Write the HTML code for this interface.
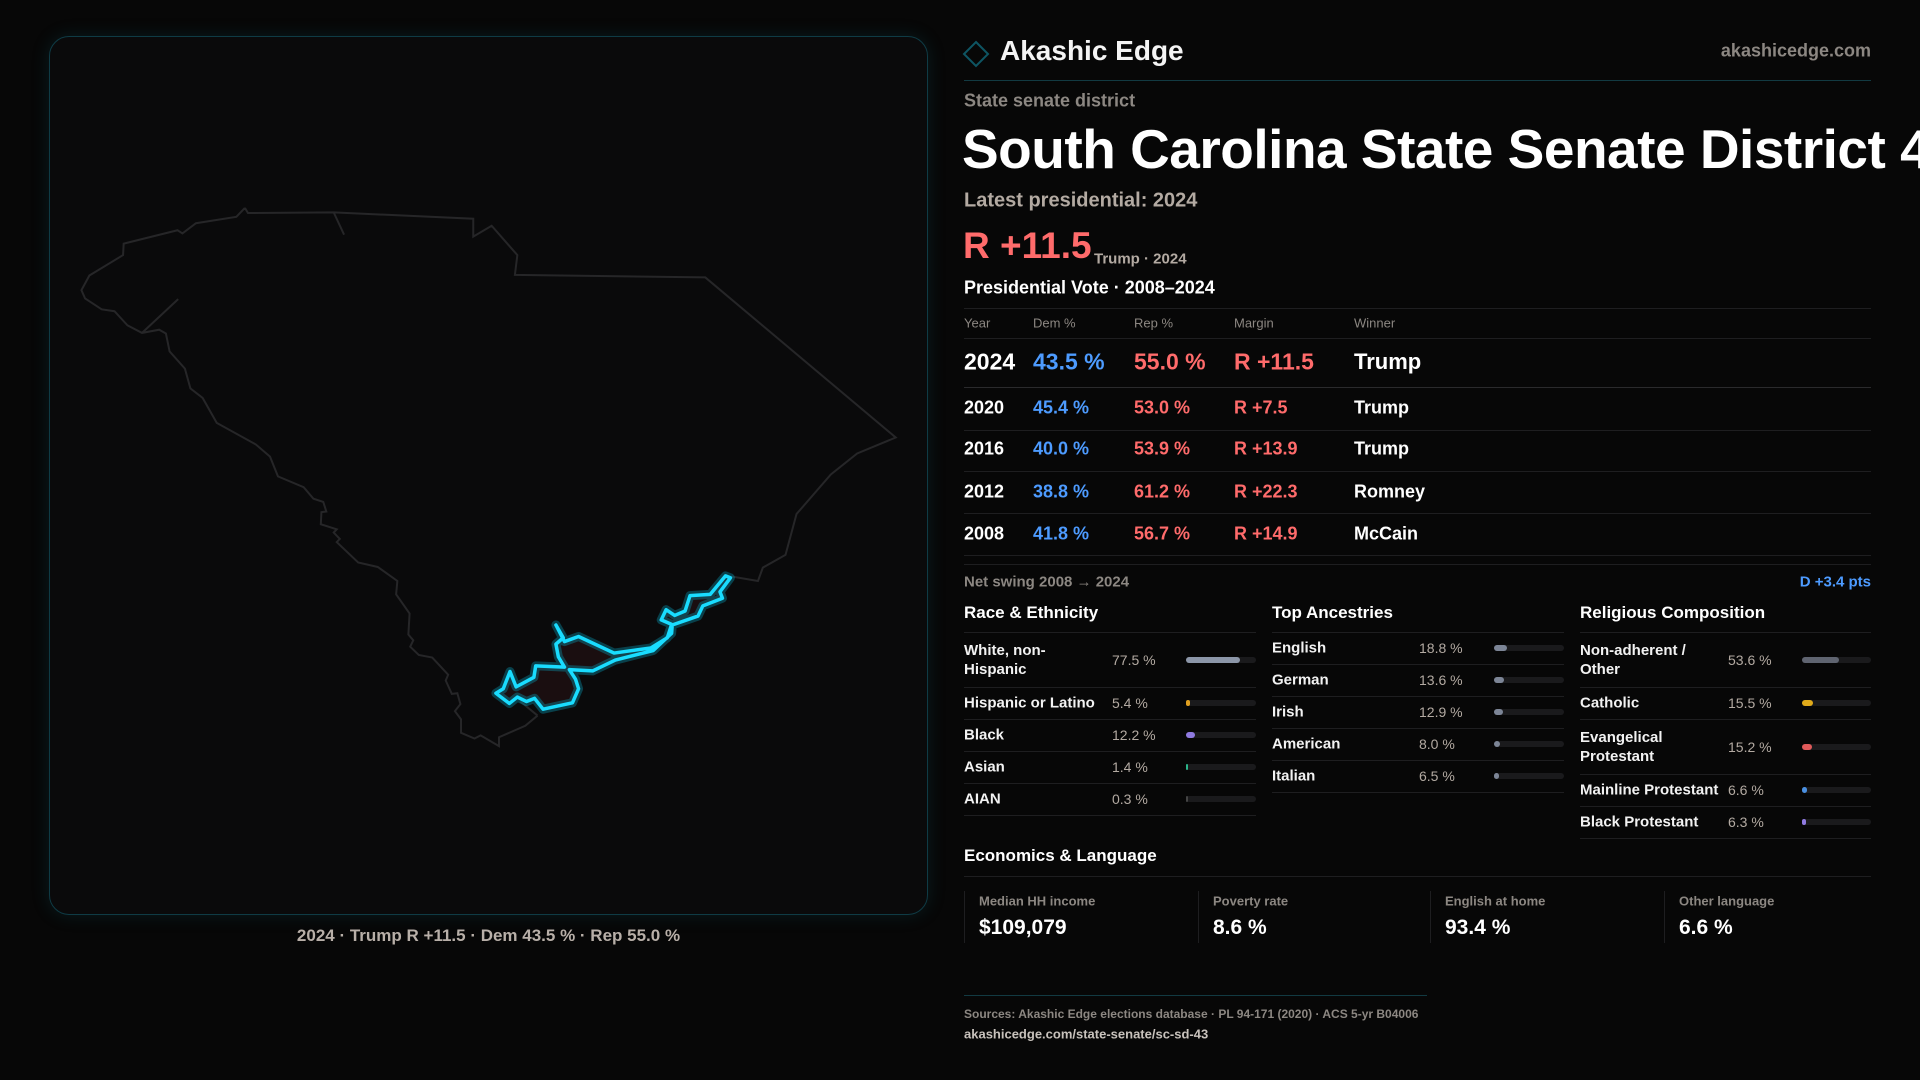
<!DOCTYPE html>
<html><head><meta charset="utf-8">
<style>
*{margin:0;padding:0;box-sizing:border-box}
html,body{width:1920px;height:1080px;overflow:hidden;background:#070707;font-family:"Liberation Sans",sans-serif;color:#f2f2f2}
.abs{position:absolute;white-space:nowrap}
.vc{transform:translateY(-50%)}
.hl{position:absolute;height:1px;background:#1e1e20}
#map{position:absolute;left:49px;top:36px;width:879px;height:879px;border:1px solid #0f3b45;border-radius:20px;background:#0a0a0b;box-shadow:0 0 18px rgba(20,120,140,0.18)}
.lbl{font-size:15px;font-weight:bold;color:#f2f2f2;line-height:19px}
.val{font-size:14px;color:#b3aaa2}
.track{position:absolute;height:6px;border-radius:3px;background:#1a1a1c}
.fill{position:absolute;left:0;top:0;height:6px;border-radius:3px}
</style></head><body>
<div id="map"></div>
<svg class="abs" style="left:0;top:0" width="960" height="1000" viewBox="0 0 1568 1568" preserveAspectRatio="none">
<path fill="none" stroke="#262628" stroke-width="2" vector-effect="non-scaling-stroke" d="M400,326 L405,334 L545,333 L773,343 L773,371 L803,354 L845,400 L841,431 L1152,435 L1463,686 L1400,711 L1357,744 L1301,806 L1283,870 L1246,890 L1238,911 L1195,904 M878,1122 L858,1138 L815,1156 L815,1170 L785,1153 L775,1158 L753,1149 L753,1128 L743,1115 L752,1104 L747,1087 L738,1088 L728,1067 L732,1058 L706,1031 L684,1027 L670,1014 L675,1004 L667,995 L669,962 L647,932 L649,911 L617,889 L585,882 L550,850 L555,845 L545,835 L550,830 L524,822 L525,803 L533,802 L528,787 L512,782 L496,764 L454,747 L441,716 L418,697 L354,663 L331,624 L311,609 L302,578 L277,551 L271,523 L260,517 L232,522 L208,510 L187,488 L166,485 L139,468 L133,455 L146,432 L201,400 L202,382 L290,361 L298,366 L320,350 L386,340 L400,326 M545,333 L562,368 M232,522 L291,469 M878,1122 L850,1100"/>
<path fill="#1a0e10" stroke="#0aa7c4" stroke-opacity="0.35" stroke-width="9" vector-effect="non-scaling-stroke" stroke-linejoin="round" d="M908,980 L920,1000 L908,1010 L912,1030 L922,1046 L875,1044 L872,1062 L843,1077 L833,1053 L822,1080 L810,1087 L832,1103 L845,1093 L860,1100 L873,1095 L887,1112 L935,1102 L945,1080 L940,1065 L930,1050 L968,1052 L1005,1035 L1067,1020 L1097,993 L1098,980 L1140,966 L1148,950 L1180,938 L1176,928 L1193,906 L1185,903 L1160,932 L1127,934 L1119,958 L1102,965 L1088,956 L1080,972 L1097,979 L1090,1000 L1063,1016 L1003,1024 L945,998 L922,1006 Z"/>
<path fill="none" stroke="#19dcff" stroke-width="3.5" vector-effect="non-scaling-stroke" stroke-linejoin="round" d="M908,980 L920,1000 L908,1010 L912,1030 L922,1046 L875,1044 L872,1062 L843,1077 L833,1053 L822,1080 L810,1087 L832,1103 L845,1093 L860,1100 L873,1095 L887,1112 L935,1102 L945,1080 L940,1065 L930,1050 L968,1052 L1005,1035 L1067,1020 L1097,993 L1098,980 L1140,966 L1148,950 L1180,938 L1176,928 L1193,906 L1185,903 L1160,932 L1127,934 L1119,958 L1102,965 L1088,956 L1080,972 L1097,979 L1090,1000 L1063,1016 L1003,1024 L945,998 L922,1006 Z"/>
</svg>
<div class="abs vc" style="left:0;width:977px;text-align:center;top:936px;font-size:17px;font-weight:bold;color:#b8afa8">2024 · Trump R +11.5 · Dem 43.5 % · Rep 55.0 %</div>

<svg class="abs" style="left:962px;top:40px" width="28" height="28" viewBox="0 0 28 28"><path d="M14,2 L26,14 L14,26 L2,14 Z" fill="none" stroke="#0e5563" stroke-width="2"/></svg>
<div class="abs vc" style="left:1000px;top:51px;font-size:28px;font-weight:bold;color:#f4f4f4">Akashic Edge</div>
<div class="abs vc" style="right:49px;top:51px;font-size:18px;font-weight:bold;color:#8c8782">akashicedge.com</div>
<div class="hl" style="left:964px;width:907px;top:80px;background:#123a42"></div>
<div class="abs vc" style="left:964px;top:101px;font-size:18px;font-weight:bold;color:#8c8782">State senate district</div>
<div class="abs vc" style="left:962px;top:149px;font-size:55px;font-weight:bold;color:#fff;letter-spacing:-0.5px">South Carolina State Senate District 43</div>
<div class="abs vc" style="left:964px;top:201px;font-size:20px;font-weight:bold;color:#b3aaa2">Latest presidential: 2024</div>
<div class="abs vc" style="left:963px;top:246px;font-size:37px;font-weight:bold;color:#ff6b6b">R +11.5</div>
<div class="abs vc" style="left:1094px;top:259px;font-size:15px;font-weight:bold;color:#b3aaa2">Trump · 2024</div>
<div class="abs vc" style="left:964px;top:288px;font-size:18px;font-weight:bold;color:#fff">Presidential Vote · 2008–2024</div>
<div id="table"></div>
<div class="abs vc" style="left:964px;top:582px;font-size:15px;font-weight:bold;color:#8c8782">Net swing 2008 → 2024</div>
<div class="abs vc" style="right:49px;top:582px;font-size:15px;font-weight:bold;color:#4d9bff">D +3.4 pts</div>
<div id="demo"></div>
<div class="abs vc" style="left:964px;top:856px;font-size:17px;font-weight:bold;color:#fff">Economics &amp; Language</div>
<div class="hl" style="left:964px;width:907px;top:876px"></div>
<div id="econ"></div>
<div class="hl" style="left:964px;width:463px;top:995px;background:#123a42"></div>
<div class="abs vc" style="left:964px;top:1014px;font-size:12px;font-weight:bold;color:#8c8782">Sources: Akashic Edge elections database · PL 94-171 (2020) · ACS 5-yr B04006</div>
<div class="abs vc" style="left:964px;top:1034px;font-size:13px;font-weight:bold;color:#c8c2bc">akashicedge.com/state-senate/sc-sd-43</div>
<script>
const years=["2024","2020","2016","2012","2008"];
const demPct=[43.5,45.4,40.0,38.8,41.8];
const repPct=[55.0,53.0,53.9,61.2,56.7];
const margins=[11.5,7.5,13.9,22.3,14.9];
const winners=["Trump","Trump","Trump","Romney","McCain"];
const raceLabels=["White, non-|Hispanic","Hispanic or Latino","Black","Asian","AIAN"];
const raceValues=[77.5,5.4,12.2,1.4,0.3];
const ancLabels=["English","German","Irish","American","Italian"];
const ancValues=[18.8,13.6,12.9,8.0,6.5];
const relLabels=["Non-adherent /|Other","Catholic","Evangelical|Protestant","Mainline Protestant","Black Protestant"];
const relValues=[53.6,15.5,15.2,6.6,6.3];
const econLabels=["Median HH income","Poverty rate","English at home","Other language"];
const econValues=["$109,079","8.6 %","93.4 %","6.6 %"];

function mk(parent,cls,style,html){const d=document.createElement('div');if(cls)d.className=cls;d.style.cssText=style;if(html!=null)d.innerHTML=html;parent.appendChild(d);return d;}
const T=document.getElementById('table');
const cols=[964,1033,1134,1234,1354];
const hdr=["Year","Dem %","Rep %","Margin","Winner"];
let e=mk(T,'hl','left:964px;width:907px;top:308px');


hdr.forEach((h,i)=>{const d=mk(T,'abs vc',`left:${cols[i]}px;top:323px;font-size:13px;color:#8c8782`,h);

});
e=mk(T,'hl','left:964px;width:907px;top:338px');


const rowY=[362,408,449,492,534],lineY=[387,430,471,513,555];
years.forEach((y,i)=>{
 const fs=i===0?23:18;const m=margins[i];
 const cells=[[y,'#fff'],[demPct[i].toFixed(1)+' %','#4d9bff'],[repPct[i].toFixed(1)+' %','#ff6b6b'],['R +'+m.toFixed(1),'#ff6b6b'],[winners[i],'#fff']];
 cells.forEach((c,j)=>{const d=mk(T,'abs vc',`left:${cols[j]}px;top:${rowY[i]}px;font-size:${j===4&&i===0?22:fs}px;font-weight:bold;color:${c[1]}`,c[0]);
 
 });
 const l=mk(T,'hl',`left:964px;width:907px;top:${lineY[i]}px;${i===0?'background:#2a2a2c':''}`);
 
 
});
e=mk(T,'hl','left:964px;width:907px;top:564px');



const D=document.getElementById('demo');
function section(x0,x1,title,labels,values,colors,rowH,valX,barX){
 const h=mk(D,'abs vc',`left:${x0}px;top:613px;font-size:17px;font-weight:bold;color:#fff`,title);
 
 
 const r=mk(D,'hl',`left:${x0}px;width:${x1-x0}px;top:632px`);
 
 
 let y=632;const bw=x1-barX;
 labels.forEach((lb,i)=>{
  const two=lb.includes('|');const hgt=two?55:rowH;const cy=y+hgt/2;
  const l=mk(D,'abs vc lbl',`left:${x0}px;top:${cy}px`,lb.replace('|','<br>'));
  
  
  const v=mk(D,'abs vc val',`left:${valX}px;top:${cy}px`,values[i].toFixed(1)+' %');
  
  
  const t=mk(D,'track',`left:${barX}px;width:${bw}px;top:${cy-3}px`);
  
  
  const f=mk(t,'fill',`width:${Math.max(1.5,values[i]/100*bw)}px;background:${colors[i]}`);
  
  
  y+=hgt;
  const rl=mk(D,'hl',`left:${x0}px;width:${x1-x0}px;top:${y}px`);
  
  
 });
}
section(964,1256,'Race &amp; Ethnicity',raceLabels,raceValues,['#8c96a8','#e0a020','#8f7ae0','#2bb58a','#444'],32,1112,1186);
section(1272,1564,'Top Ancestries',ancLabels,ancValues,['#7c8596','#7c8596','#7c8596','#7c8596','#7c8596'],32,1419,1494);
section(1580,1871,'Religious Composition',relLabels,relValues,['#5f6470','#e0aa1a','#e05a5a','#4a8fe0','#8f7ae0'],32,1728,1802);

const E=document.getElementById('econ');
const cx=[964,1198,1430,1664];
econLabels.forEach((lb,i)=>{
 const b=mk(E,'abs',`left:${cx[i]}px;top:891px;width:1px;height:52px;background:#1e1e20`);
 
 
 const l=mk(E,'abs vc',`left:${cx[i]+15}px;top:901px;font-size:13px;font-weight:bold;color:#8c8782`,lb);
 
 
 const v=mk(E,'abs vc',`left:${cx[i]+15}px;top:928px;font-size:21px;font-weight:bold;color:#fff`,econValues[i]);
 
 
});
</script>
</body></html>
